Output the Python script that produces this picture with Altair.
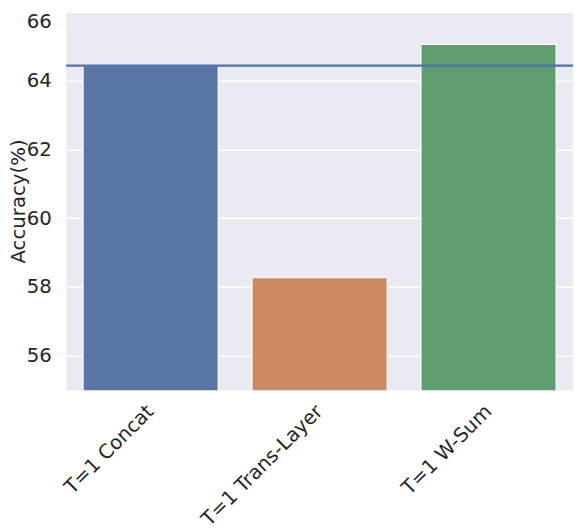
import altair as alt
import pandas as pd

methods = ["T=1 Concat", "T=1 Trans-Layer", "T=1 W-Sum"]
accuracy = [64.43, 58.27, 65.05]
baseline = [64.43]
bar_colors = ["#5975A4", "#CC8963", "#5F9E6E"]
y_ticks = [56, 58, 60, 62, 64, 66]

df = pd.DataFrame({"method": methods, "acc": accuracy})
line_df = pd.DataFrame({"b": baseline})

FONT = "DejaVu Sans"
TXT = "#262626"
LEFT = 59
H = 384

bars = alt.Chart(df).mark_bar(clip=True, stroke="white", strokeWidth=1.2).encode(
    x=alt.X("method:N", sort=methods, title=None,
            scale=alt.Scale(paddingInner=0.2, paddingOuter=0.1),
            axis=alt.Axis(labelAngle=-45, labelAlign="right", labelBaseline="middle",
                          labelPadding=18, ticks=False, domain=False, grid=False,
                          labelFontSize=20, labelColor=TXT, labelFont=FONT,
                          labelOverlap=False, labelLimit=300)),
    y=alt.Y("acc:Q", title="Accuracy(%)",
            scale=alt.Scale(domain=[55, 66], zero=False, nice=False),
            axis=alt.Axis(values=y_ticks, ticks=False, domain=False, grid=True,
                          gridColor="white", gridWidth=1.5, labelPadding=15,
                          labelBaseline={"condition": {"test": "datum.value == 66", "value": "top"},
                                         "value": "middle"},
                          labelFontSize=20, labelColor=TXT, labelFont=FONT,
                          titleFontSize=20, titleFontWeight="normal", titleColor=TXT,
                          titleFont=FONT, titleX=-(LEFT - 1), titleY=H / 2,
                          titleAngle=270, titleAlign="center", titleBaseline="top")),
    color=alt.Color("method:N", sort=methods,
                    scale=alt.Scale(domain=methods, range=bar_colors), legend=None),
)

rule = alt.Chart(line_df).mark_rule(color="#4C72B0", strokeWidth=2.2).encode(
    y=alt.Y("b:Q")
)

chart = alt.layer(bars, rule).properties(
    width=573 - 8 - LEFT + 8, height=H,
    autosize=alt.AutoSizeParams(type="none"),
    padding={"left": LEFT, "top": 0, "right": 0, "bottom": 139},
).configure(background="white").configure_view(fill="#EAEAF2", strokeWidth=0)

chart.save("out.html", embed_options={"renderer": "svg", "actions": False})
